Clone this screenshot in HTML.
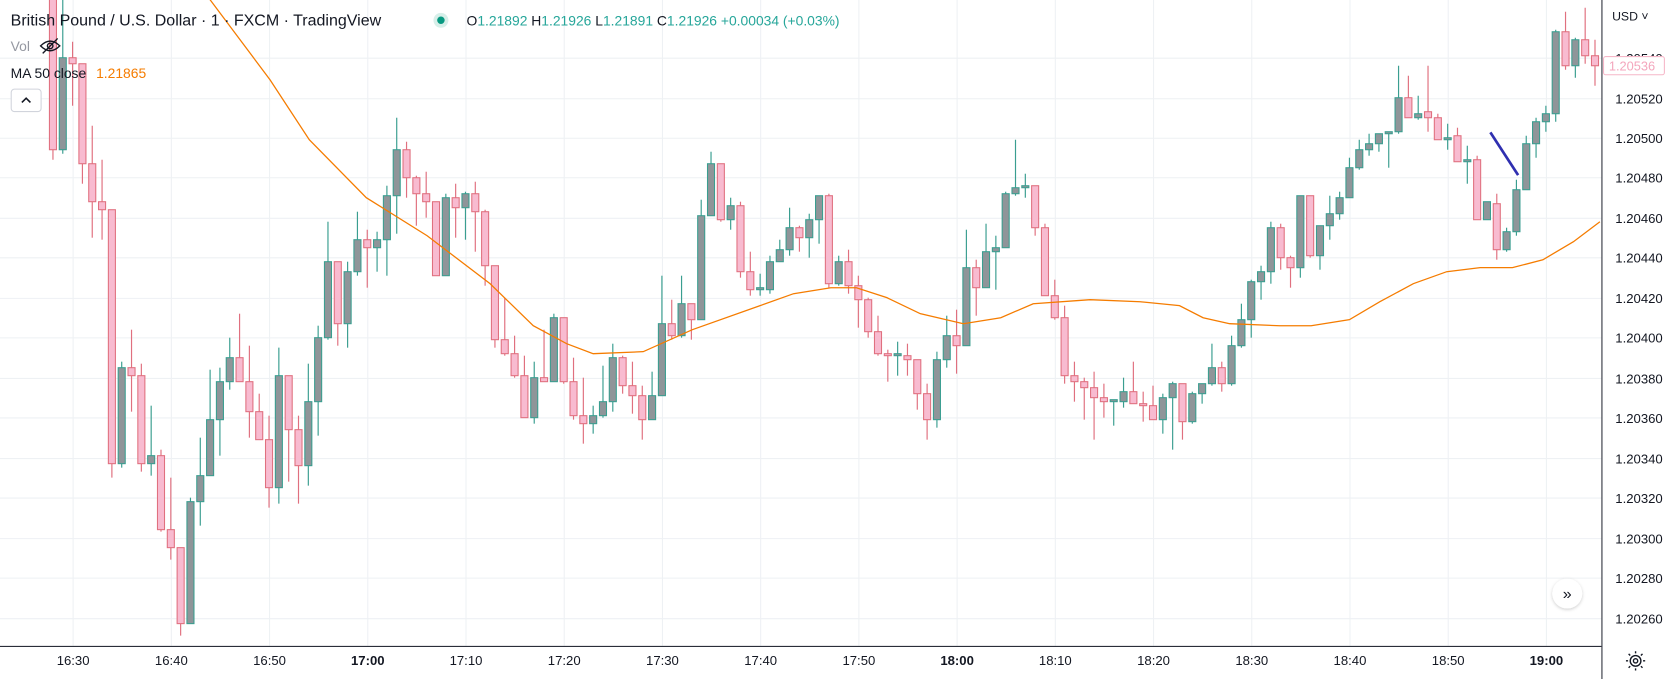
<!DOCTYPE html>
<html><head><meta charset="utf-8"><style>
html,body{margin:0;padding:0;background:#fff;}
svg{display:block;font-family:"Liberation Sans",sans-serif;}
</style></head><body>
<svg id="chart" width="1674" height="679" viewBox="0 0 1568 636" xmlns="http://www.w3.org/2000/svg">
<defs><clipPath id="plotclip"><rect x="0" y="0" width="1500" height="605"/></clipPath>
<filter id="sh" x="-50%" y="-50%" width="200%" height="200%"><feDropShadow dx="0" dy="1" stdDeviation="1.5" flood-color="#000" flood-opacity="0.2"/></filter></defs>
<rect x="0" y="0" width="1568" height="636" fill="#fff"/>
<g id="grid"></g>
<g id="plot" clip-path="url(#plotclip)"></g>
<line x1="1396" y1="124" x2="1422" y2="164" stroke="#2f2fb0" stroke-width="2.5"/>
<line x1="1500.5" y1="0" x2="1500.5" y2="636" stroke="#2a2e39" stroke-width="1"/>
<line x1="0" y1="605.5" x2="1500" y2="605.5" stroke="#2a2e39" stroke-width="1"/>
<g id="yaxis"></g>
<g id="xaxis"></g>
<text x="1510" y="19" font-size="11.5" fill="#131722">USD ˅</text>
<g>
<rect x="1502" y="53" width="57" height="17" rx="2" fill="#fff" stroke="#f6b7c8" stroke-width="1"/>
<text x="1507" y="66" font-size="12" fill="#f4a6bd">1.20536</text></g>
<g>
<text x="10" y="24" font-size="15" fill="#131722">British Pound / U.S. Dollar · 1 · FXCM · TradingView</text>
<circle cx="413" cy="19" r="7" fill="#d7efe9"/>
<circle cx="413" cy="19" r="3.5" fill="#089981"/>
<text x="437" y="24" font-size="13" fill="#26a69a"><tspan fill="#131722">O</tspan>1.21892 <tspan fill="#131722">H</tspan>1.21926 <tspan fill="#131722">L</tspan>1.21891 <tspan fill="#131722">C</tspan>1.21926 +0.00034 (+0.03%)</text>
<text x="10" y="48" font-size="13" fill="#9598a1">Vol</text>
<g stroke="#131722" stroke-width="1.3" fill="none">
<path d="M38 43 Q47 34 56 43 Q47 52 38 43 Z"/><circle cx="47" cy="43" r="2.6"/><line x1="40" y1="50" x2="54" y2="36"/></g>
<text x="10" y="73" font-size="13" fill="#131722">MA 50 close</text>
<text x="90" y="73" font-size="13" fill="#f57c00">1.21865</text>
<rect x="10.5" y="83.5" width="28" height="21" rx="3" fill="#fff" stroke="#d1d4dc"/>
<path d="M20.5 96 L24.5 92 L28.5 96" stroke="#131722" stroke-width="1.5" fill="none"/>
</g>
<g>
<circle cx="1468" cy="556" r="14" fill="#fff" filter="url(#sh)"/>
<text x="1468" y="561" font-size="15" text-anchor="middle" fill="#131722">»</text></g>
<g stroke="#131722" stroke-width="1.3" fill="none">
<circle cx="1532" cy="619" r="5"/><circle cx="1532" cy="619" r="2"/>
<path d="M1532 612v-2M1532 626v2M1525 619h-2M1539 619h2M1527 614l-1.5-1.5M1537 624l1.5 1.5M1537 614l1.5-1.5M1527 624l-1.5 1.5"/></g>
</svg>
<script>
const opens=[1.20570,1.20494,1.20540,1.20537,1.20487,1.20468,1.20464,1.20337,1.20385,1.20381,1.20337,1.20341,1.20304,1.20295,1.20257,1.20318,1.20331,1.20359,1.20378,1.20390,1.20378,1.20363,1.20349,1.20325,1.20381,1.20354,1.20336,1.20368,1.20400,1.20438,1.20407,1.20433,1.20449,1.20445,1.20449,1.20471,1.20494,1.20480,1.20472,1.20468,1.20431,1.20470,1.20465,1.20472,1.20463,1.20436,1.20399,1.20392,1.20381,1.20360,1.20380,1.20378,1.20410,1.20378,1.20361,1.20357,1.20361,1.20368,1.20390,1.20376,1.20371,1.20359,1.20371,1.20407,1.20401,1.20417,1.20409,1.20461,1.20487,1.20459,1.20466,1.20433,1.20424,1.20424,1.20438,1.20444,1.20455,1.20450,1.20459,1.20471,1.20427,1.20438,1.20426,1.20419,1.20403,1.20392,1.20391,1.20391,1.20389,1.20372,1.20359,1.20389,1.20401,1.20396,1.20435,1.20425,1.20443,1.20445,1.20472,1.20475,1.20476,1.20455,1.20421,1.20410,1.20381,1.20378,1.20375,1.20370,1.20368,1.20368,1.20373,1.20367,1.20366,1.20359,1.20370,1.20377,1.20358,1.20372,1.20377,1.20385,1.20377,1.20396,1.20409,1.20428,1.20433,1.20455,1.20440,1.20435,1.20471,1.20441,1.20456,1.20462,1.20470,1.20485,1.20494,1.20497,1.20502,1.20503,1.20520,1.20510,1.20513,1.20510,1.20499,1.20501,1.20488,1.20489,1.20459,1.20467,1.20444,1.20453,1.20474,1.20497,1.20508,1.20512,1.20553,1.20536,1.20549,1.20541];
const highs=[1.20575,1.20570,1.20548,1.20537,1.20506,1.20489,1.20464,1.20388,1.20404,1.20387,1.20366,1.20344,1.20330,1.20295,1.20320,1.20350,1.20384,1.20385,1.20400,1.20412,1.20396,1.20372,1.20361,1.20395,1.20381,1.20361,1.20387,1.20406,1.20458,1.20438,1.20438,1.20463,1.20454,1.20453,1.20476,1.20510,1.20498,1.20481,1.20483,1.20468,1.20472,1.20477,1.20473,1.20478,1.20464,1.20436,1.20420,1.20401,1.20391,1.20388,1.20404,1.20412,1.20410,1.20390,1.20380,1.20366,1.20386,1.20397,1.20391,1.20388,1.20376,1.20383,1.20431,1.20419,1.20431,1.20417,1.20469,1.20493,1.20487,1.20470,1.20468,1.20443,1.20432,1.20441,1.20449,1.20465,1.20456,1.20462,1.20471,1.20472,1.20441,1.20444,1.20431,1.20420,1.20411,1.20394,1.20398,1.20397,1.20389,1.20377,1.20393,1.20411,1.20414,1.20454,1.20439,1.20457,1.20451,1.20473,1.20499,1.20482,1.20476,1.20457,1.20429,1.20416,1.20388,1.20380,1.20383,1.20377,1.20369,1.20380,1.20388,1.20373,1.20376,1.20372,1.20378,1.20377,1.20373,1.20377,1.20397,1.20388,1.20401,1.20417,1.20429,1.20436,1.20458,1.20457,1.20441,1.20471,1.20471,1.20456,1.20471,1.20473,1.20490,1.20499,1.20502,1.20502,1.20503,1.20536,1.20531,1.20521,1.20536,1.20512,1.20507,1.20505,1.20496,1.20491,1.20468,1.20472,1.20455,1.20479,1.20501,1.20510,1.20516,1.20554,1.20563,1.20550,1.20565,1.20549];
const lows=[1.20489,1.20492,1.20516,1.20477,1.20450,1.20449,1.20330,1.20335,1.20363,1.20333,1.20331,1.20303,1.20289,1.20251,1.20257,1.20306,1.20331,1.20341,1.20374,1.20378,1.20350,1.20349,1.20315,1.20317,1.20328,1.20317,1.20326,1.20351,1.20399,1.20396,1.20395,1.20431,1.20425,1.20433,1.20431,1.20452,1.20470,1.20456,1.20460,1.20431,1.20431,1.20450,1.20449,1.20443,1.20426,1.20395,1.20391,1.20380,1.20360,1.20357,1.20378,1.20378,1.20377,1.20359,1.20347,1.20352,1.20360,1.20363,1.20372,1.20362,1.20349,1.20359,1.20371,1.20399,1.20400,1.20399,1.20409,1.20461,1.20458,1.20454,1.20430,1.20421,1.20421,1.20422,1.20438,1.20441,1.20443,1.20440,1.20447,1.20425,1.20426,1.20422,1.20405,1.20400,1.20391,1.20378,1.20381,1.20381,1.20364,1.20349,1.20355,1.20385,1.20382,1.20396,1.20411,1.20425,1.20424,1.20445,1.20471,1.20470,1.20451,1.20421,1.20409,1.20377,1.20368,1.20359,1.20349,1.20360,1.20356,1.20365,1.20367,1.20358,1.20359,1.20352,1.20344,1.20349,1.20357,1.20367,1.20376,1.20373,1.20376,1.20395,1.20400,1.20419,1.20427,1.20434,1.20425,1.20430,1.20440,1.20434,1.20449,1.20459,1.20470,1.20484,1.20491,1.20493,1.20485,1.20502,1.20510,1.20509,1.20503,1.20499,1.20494,1.20488,1.20477,1.20459,1.20459,1.20439,1.20443,1.20451,1.20474,1.20490,1.20503,1.20508,1.20534,1.20530,1.20537,1.20526];
const closes=[1.20494,1.20540,1.20537,1.20487,1.20468,1.20464,1.20337,1.20385,1.20381,1.20337,1.20341,1.20304,1.20295,1.20257,1.20318,1.20331,1.20359,1.20378,1.20390,1.20378,1.20363,1.20349,1.20325,1.20381,1.20354,1.20336,1.20368,1.20400,1.20438,1.20407,1.20433,1.20449,1.20445,1.20449,1.20471,1.20494,1.20480,1.20472,1.20468,1.20431,1.20470,1.20465,1.20472,1.20463,1.20436,1.20399,1.20392,1.20381,1.20360,1.20380,1.20378,1.20410,1.20378,1.20361,1.20357,1.20361,1.20368,1.20390,1.20376,1.20371,1.20359,1.20371,1.20407,1.20401,1.20417,1.20409,1.20461,1.20487,1.20459,1.20466,1.20433,1.20424,1.20425,1.20438,1.20444,1.20455,1.20450,1.20459,1.20471,1.20427,1.20438,1.20426,1.20419,1.20403,1.20392,1.20391,1.20392,1.20389,1.20372,1.20359,1.20389,1.20401,1.20396,1.20435,1.20425,1.20443,1.20445,1.20472,1.20475,1.20476,1.20455,1.20421,1.20410,1.20381,1.20378,1.20375,1.20370,1.20368,1.20369,1.20373,1.20367,1.20366,1.20359,1.20370,1.20377,1.20358,1.20372,1.20377,1.20385,1.20377,1.20396,1.20409,1.20428,1.20433,1.20455,1.20440,1.20435,1.20471,1.20441,1.20456,1.20462,1.20470,1.20485,1.20494,1.20497,1.20502,1.20503,1.20520,1.20510,1.20512,1.20510,1.20499,1.20500,1.20488,1.20489,1.20459,1.20468,1.20444,1.20453,1.20474,1.20497,1.20508,1.20512,1.20553,1.20536,1.20549,1.20541,1.20536];
const maIdx=[14,16,22.1,26.1,31.9,38.1,44.5,48.9,52.3,55,60.1,65.1,72,75.4,79.2,81.8,84.9,88.3,92.7,96.5,99.8,105.6,110.7,114.7,117.1,119.8,124.9,128.1,132,135.1,138.5,141.9,145.3,148.6,151.7,154.8,157.5];
const maVals=[1.20580,1.20569,1.20529,1.20499,1.20470,1.20451,1.20427,1.20406,1.20397,1.20392,1.20393,1.20404,1.20416,1.20422,1.20425,1.20425,1.20420,1.20412,1.20407,1.20410,1.20417,1.20419,1.20418,1.20416,1.20410,1.20407,1.20406,1.20406,1.20409,1.20418,1.20427,1.20433,1.20435,1.20435,1.20439,1.20448,1.20458];
const priceTicks=[1.20540,1.20520,1.20500,1.20480,1.20460,1.20440,1.20420,1.20400,1.20380,1.20360,1.20340,1.20320,1.20300,1.20280,1.20260];
const timeTicks=["16:30","16:40","16:50","17:00","17:10","17:20","17:30","17:40","17:50","18:00","18:10","18:20","18:30","18:40","18:50","19:00"];
const timeTickIdx=[2,12,22,32,42,52,62,72,82,92,102,112,122,132,142,152];

const NS="http://www.w3.org/2000/svg";
function yS(p){return 129+(1.205-p)/0.0002*37.46;}
function xS(i){return 49.6+9.2*i;}
function mk(tag,attrs,parent){const e=document.createElementNS(NS,tag);for(const k in attrs)e.setAttribute(k,attrs[k]);parent.appendChild(e);return e;}
const grid=document.getElementById('grid'),plot=document.getElementById('plot'),yax=document.getElementById('yaxis'),xax=document.getElementById('xaxis');
priceTicks.forEach((p,k)=>{
  const y=Math.round(yS(p))+0.5;
  const g=mk('line',{x1:0,x2:1500,y1:y,y2:y,stroke:'#eef1f4','stroke-width':1},grid);
  
  
  const t=mk('text',{x:1513,y:y+4.5,'font-size':12.3,fill:'#131722'},yax);
  t.textContent=p.toFixed(5);
  
  
});
timeTicks.forEach((s,k)=>{
  const x=Math.round(xS(timeTickIdx[k]))+0.5;
  const g=mk('line',{x1:x,x2:x,y1:0,y2:605,stroke:'#eef1f4','stroke-width':1},grid);
  
  
  const bold=s.endsWith(':00');
  const t=mk('text',{x:x,y:623,'font-size':12.3,'text-anchor':'middle',fill:'#131722','font-weight':bold?'bold':'normal'},xax);
  t.textContent=s;
  
  
});
for(let i=0;i<opens.length;i++){
  const o=opens[i],h=highs[i],l=lows[i],c=closes[i];
  const up=c>=o;
  const stroke=up?'#3a9e90':'#e0707f', fill=up?'#8f9599':'#f8bbd0';
  const x=xS(i);
  const g=mk('g',{},plot);
  
  
  mk('line',{x1:x,x2:x,y1:yS(h),y2:yS(l),stroke:stroke,'stroke-width':1.1},g);
  const top=yS(Math.max(o,c)),bot=yS(Math.min(o,c));
  mk('rect',{x:x-3.3,y:top,width:6.6,height:Math.max(bot-top,1.2),fill:fill,stroke:stroke,'stroke-width':1},g);
}
let pts=maIdx.map((v,k)=>xS(v).toFixed(1)+','+yS(maVals[k]).toFixed(1)).join(' ');
const ma=mk('polyline',{points:pts,fill:'none',stroke:'#f57c00','stroke-width':1.2},plot);


</script>
</body></html>
